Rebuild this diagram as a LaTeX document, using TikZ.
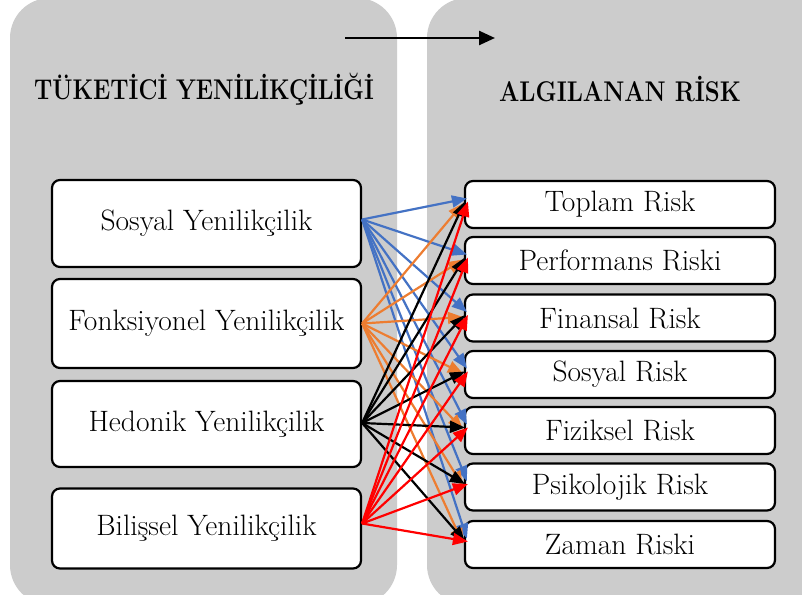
\documentclass[tikz,border=0pt]{standalone}
\usepackage{fontspec}
\usetikzlibrary{arrows.meta}
\definecolor{panelgray}{RGB}{204,204,204}
\definecolor{cblue}{RGB}{68,114,196}
\definecolor{corange}{RGB}{237,125,49}
\definecolor{cred}{RGB}{255,0,0}
\begin{document}
\begin{tikzpicture}[x=1pt,y=-1pt,
  panel/.style={fill=panelgray, rounded corners=40pt},
  boxbase/.style={draw=black, line width=2.2pt, fill=white, rounded corners=8pt, inner sep=0pt, font=\fontsize{29.5}{34}\selectfont},
  lbox/.style={boxbase, minimum width=309pt},
  rbox/.style={boxbase, minimum width=310pt, minimum height=47pt},
  title/.style={font=\fontsize{28.5}{32}\selectfont\bfseries, inner sep=0pt},
  link/.style={line width=2.2pt, -{Triangle[length=15pt,width=12pt]}},
]
\useasboundingbox (0,0) rectangle (802,594);
\clip (0,0) rectangle (802,594);
\fill[white] (0,0) rectangle (802,594);
% panels
\fill[panel] (10,-2) rectangle (397,605);
\fill[panel] (427,-2) rectangle (842,605);
\fill[panelgray] (760,-2) rectangle (802,605);
% top arrow
\coordinate (a1) at (345,38);
\coordinate (a2) at (495,38);
\draw[line width=2.5pt, -{Triangle[length=16pt,width=14pt]}] (a1) -- (a2);
% titles
\node[title] (tL) at (204,89) {\scalebox{0.82}[1]{TÜKETİCİ YENİLİKÇİLİĞİ}};
\node[title] (tR) at (620,89) {\scalebox{0.84}[1]{ALGILANAN RİSK}};
% left boxes
\node[lbox, minimum height=87pt] (L1) at (206.5,223.5) {Sosyal Yenilikçilik};
\node[lbox, minimum height=89pt] (L2) at (206.5,323.5) {Fonksiyonel Yenilikçilik};
\node[lbox, minimum height=86pt] (L3) at (206.5,424) {Hedonik Yenilikçilik};
\node[lbox, minimum height=80pt] (L4) at (206.5,528.5) {Bilişsel Yenilikçilik};
% right boxes
\node[rbox] (R1) at (620,204.5) {Toplam Risk};
\node[rbox] (R2) at (620,260.5) {Performans Riski};
\node[rbox] (R3) at (620,318) {Finansal Risk};
\node[rbox] (R4) at (620,374.5) {Sosyal Risk};
\node[rbox] (R5) at (620,430.5) {Fiziksel Risk};
\node[rbox] (R6) at (620,487) {Psikolojik Risk};
\node[rbox] (R7) at (620,544.5) {Zaman Riski};
% sources
\coordinate (s1) at ([yshift=4pt]L1.east);
\coordinate (s2) at (L2.east);
\coordinate (s3) at ([yshift=1pt]L3.east);
\coordinate (s4) at ([yshift=5pt]L4.east);
% connectors
\foreach \i in {1,...,7} \draw[link, cblue] (s1) -- ([xshift=3pt,yshift=6pt]R\i.west);
\foreach \i in {1,...,7} \draw[link, corange] (s2) -- ([xshift=-1pt,yshift=1pt]R\i.west);
\foreach \i in {1,...,7} \draw[link, black] (s3) -- ([xshift=1pt,yshift=3pt]R\i.west);
\foreach \i in {1,...,7} \draw[link, cred] (s4) -- ([xshift=4pt,yshift=3pt]R\i.west);
\end{tikzpicture}
\end{document}
